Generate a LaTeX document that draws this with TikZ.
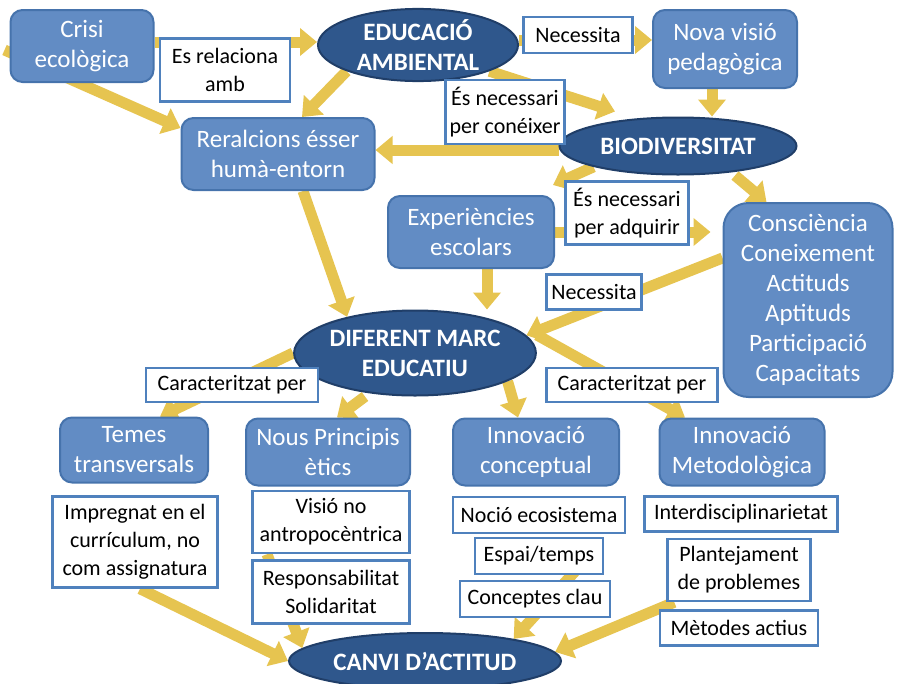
\documentclass[tikz,border=0pt]{standalone}
\usepackage{fontspec}
\setmainfont{Carlito}
\usetikzlibrary{arrows.meta,shapes.geometric,backgrounds}
\definecolor{caixablau}{RGB}{98,140,196}
\definecolor{vorablau}{RGB}{70,115,172}
\definecolor{elipsblau}{RGB}{47,87,140}
\definecolor{voraelips}{RGB}{32,62,104}
\definecolor{groc}{RGB}{230,196,80}
\definecolor{voraetiq}{RGB}{79,129,189}
\tikzset{
  caixa/.style={draw=vorablau, line width=2pt, fill=caixablau, rounded corners=12pt,
    text=white, align=center, inner sep=0pt, font=\fontsize{25}{30}\selectfont},
  elips/.style={ellipse, draw=voraelips, line width=2pt, fill=elipsblau, text=white,
    align=center, inner sep=0pt, font=\fontsize{25}{30}\selectfont\bfseries},
  etiq/.style={draw=voraetiq, line width=2.5pt, fill=white, align=center, inner sep=0pt,
    font=\fontsize{22}{28}\selectfont},
  fletxa/.style={groc, line width=11pt, -{Triangle[width=27pt,length=17pt]}},
}
\begin{document}
\begin{tikzpicture}[x=1pt,y=-1pt]
\useasboundingbox (0,0) rectangle (897,683);
% conceptes
\node[caixa, minimum width=143pt, minimum height=72pt] (crisi) at (82,46) {Crisi\\ecològica};
\node[caixa, minimum width=144pt, minimum height=78pt] (nova) at (725,49) {Nova visió\\pedagògica};
\node[caixa, minimum width=193pt, minimum height=72pt] (rel) at (278,154) {Reralcions ésser\\humà-entorn};
\node[caixa, minimum width=166pt, minimum height=72pt] (exp) at (471,232) {Experiències\\escolars};
\node[caixa, rounded corners=25pt, minimum width=169pt, minimum height=194pt] (cons) at (808,300)
  {Consciència\\Coneixement\\Actituds\\Aptituds\\Participació\\Capacitats};
\node[caixa, minimum width=148pt, minimum height=65pt] (temes) at (134,450) {Temes\\transversals};
\node[caixa, minimum width=164pt, minimum height=67pt] (nous) at (328,452) {Nous Principis\\ètics};
\node[caixa, minimum width=166pt, minimum height=67pt] (conc) at (536,452) {Innovació\\conceptual};
\node[caixa, minimum width=165pt, minimum height=67pt] (meto) at (742,452) {Innovació\\Metodològica};
\node[elips, minimum width=200pt, minimum height=70pt] (edu) at (418,45) {EDUCACIÓ\\AMBIENTAL};
\node[elips, minimum width=237pt, minimum height=57pt] (bio) at (678,146) {BIODIVERSITAT};
\node[elips, minimum width=226pt, minimum height=85pt] (dif) at (415,353) {DIFERENT MARC\\EDUCATIU};
\node[elips, minimum width=272pt, minimum height=56pt] (canvi) at (425,661) {CANVI D’ACTITUD};
% etiquetes
\node[etiq, minimum width=130pt, minimum height=63pt] (relamb) at (225,70) {Es relaciona\\amb};
\node[etiq, minimum width=109pt, minimum height=36pt] (necA) at (578,35) {Necessita};
\node[etiq, minimum width=119pt, minimum height=64pt] (conei) at (505,112) {És necessari\\per conéixer};
\node[etiq, minimum width=123pt, minimum height=63pt] (adqu) at (627,213) {És necessari\\per adquirir};
\node[etiq, minimum width=95pt, minimum height=35pt] (necB) at (594,292) {Necessita};
\node[etiq, minimum width=172pt, minimum height=34pt] (caracA) at (232,385) {Caracteritzat per};
\node[etiq, minimum width=171pt, minimum height=34pt] (caracB) at (632,385) {Caracteritzat per};
\node[etiq, minimum width=165pt, minimum height=91pt] (impreg) at (135,542) {Impregnat en el\\currículum, no\\com assignatura};
\node[etiq, minimum width=157pt, minimum height=62pt] (visio) at (331,522) {Visió no\\antropocèntrica};
\node[etiq, minimum width=157pt, minimum height=63pt] (resp) at (331,592) {Responsabilitat\\Solidaritat};
\node[etiq, minimum width=172pt, minimum height=36pt] (nocio) at (539,515) {Noció ecosistema};
\node[etiq, minimum width=128pt, minimum height=36pt] (espai) at (539,556) {Espai/temps};
\node[etiq, minimum width=150pt, minimum height=36pt] (clau) at (535,599) {Conceptes clau};
\node[etiq, minimum width=193pt, minimum height=35pt] (inter) at (741,514) {Interdisciplinarietat};
\node[etiq, minimum width=143pt, minimum height=62pt] (plant) at (739,570) {Plantejament\\de problemes};
\node[etiq, minimum width=158pt, minimum height=35pt] (actius) at (739,628) {Mètodes actius};
% fletxes
\begin{pgfonlayer}{background}
\draw[fletxa] ([yshift=4pt]crisi.east) -- ([yshift=3pt]edu.west);
\draw[fletxa] ([shift={(-5pt,-4pt)}]crisi.west) -- ([yshift=26pt]rel.west);
\draw[fletxa] (edu.south west) -- ([xshift=24pt]rel.north);
\draw[fletxa] ([yshift=5pt]edu.east) -- ([yshift=9pt]nova.west);
\draw[fletxa] (edu.south east) -- ([shift={(-63pt,5pt)}]bio.north);
\draw[fletxa] ([xshift=-13pt]nova.south) -- ([xshift=-13pt]nova.south |- bio.north);
\draw[fletxa] ([yshift=-4pt]bio.west) -- ([yshift=4pt]rel.east);
\draw[fletxa] (bio.south west) -- ([shift={(-2pt,10pt)}]exp.north east);
\draw[fletxa] ([xshift=57pt]bio.south) -- ([xshift=44pt]cons.north west);
\draw[fletxa, shorten >=12pt] (exp.east) -- (exp.east -| cons.west);
\draw[fletxa] ([xshift=25pt]rel.south) -- (dif.152);
\draw[fletxa] ([xshift=16pt]exp.south) -- ([xshift=16pt]exp.south |- dif.north);
\draw[fletxa] ([yshift=42pt]cons.west) -- (dif.9);
\draw[fletxa] (dif.west) -- ([xshift=26pt]temes.north);
\draw[fletxa] ([xshift=-50pt]dif.south) -- ([xshift=9pt]nous.north);
\draw[fletxa] (dif.-17) -- ([xshift=-18pt]conc.north);
\draw[fletxa] ([yshift=18pt]dif.east) -- ([xshift=-57pt]meto.north);
\draw[fletxa] ([xshift=5pt]impreg.south) -- (canvi.west);
\draw[fletxa] ([xshift=-64pt]visio.south) -- (canvi.174);
\draw[fletxa] ([xshift=50pt]espai.center) -- (canvi.14);
\draw[fletxa] ([xshift=8pt]plant.south west) -- (canvi.4);
\end{pgfonlayer}
\end{tikzpicture}
\end{document}
